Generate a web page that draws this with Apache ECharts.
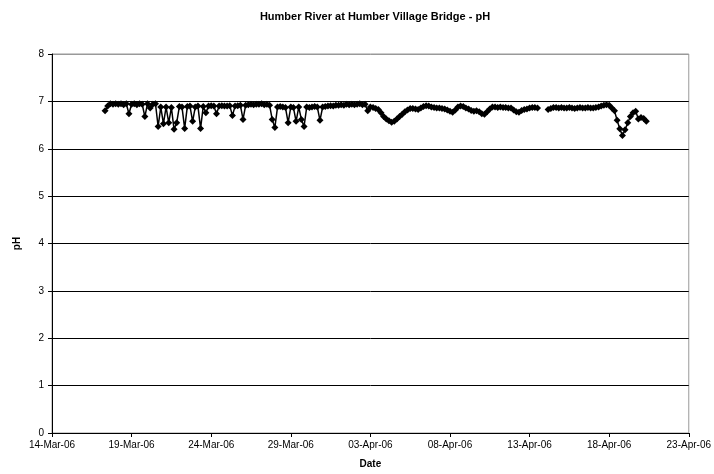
<!DOCTYPE html>
<html>
<head>
<meta charset="utf-8">
<script src="https://cdn.jsdelivr.net/npm/echarts@6/dist/echarts.min.js"></script>
<style>
  html, body { margin: 0; padding: 0; background: #fff; }
  #chart { width: 714px; height: 474px; }
</style>
</head>
<body>
<div id="chart"></div>
<script>
// axis runs from 14-Mar-06 (day 0) to 23-Apr-06 (day 40)
const startDate = Date.UTC(2006, 2, 14);
const months = ['Jan', 'Feb', 'Mar', 'Apr', 'May', 'Jun', 'Jul', 'Aug', 'Sep', 'Oct', 'Nov', 'Dec'];

// logger readings, one row per day starting 17-Mar-06, at 00,04,08,12,16,20 h
const firstDay = 3;
const hours = [0, 4, 8, 12, 16, 20];
const readings = [
    [null, null, 6.80, 6.90, 6.95, 6.94], // 17-Mar
    [6.95, 6.94, 6.95, 6.93, 6.95, 6.74], // 18-Mar
    [6.94, 6.95, 6.93, 6.95, 6.94, 6.68], // 19-Mar
    [6.95, 6.86, 6.94, 6.95, 6.47, 6.88], // 20-Mar
    [6.53, 6.88, 6.55, 6.87, 6.41, 6.55], // 21-Mar
    [6.89, 6.88, 6.43, 6.89, 6.90, 6.58], // 22-Mar
    [6.88, 6.90, 6.43, 6.89, 6.76, 6.90], // 23-Mar
    [6.91, 6.90, 6.74, 6.90, 6.91, 6.90], // 24-Mar
    [6.90, 6.91, 6.70, 6.90, 6.91, 6.92], // 25-Mar
    [6.62, 6.92, 6.93, 6.94, 6.93, 6.94], // 26-Mar
    [6.94, 6.95, 6.93, 6.94, 6.92, 6.62], // 27-Mar
    [6.45, 6.88, 6.89, 6.88, 6.87, 6.55], // 28-Mar
    [6.88, 6.87, 6.58, 6.88, 6.62, 6.47], // 29-Mar
    [6.88, 6.87, 6.88, 6.89, 6.88, 6.60], // 30-Mar
    [6.88, 6.89, 6.90, 6.91, 6.90, 6.92], // 31-Mar
    [6.92, 6.93, 6.92, 6.94, 6.93, 6.94], // 01-Apr
    [6.93, 6.94, 6.95, 6.93, 6.94, 6.80], // 02-Apr
    [6.88, 6.87, 6.85, 6.83, 6.76, 6.68], // 03-Apr
    [6.63, 6.59, 6.56, 6.58, 6.63, 6.68], // 04-Apr
    [6.73, 6.78, 6.82, 6.85, 6.85, 6.84], // 05-Apr
    [6.83, 6.86, 6.89, 6.91, 6.90, 6.88], // 06-Apr
    [6.87, 6.86, 6.86, 6.85, 6.84, 6.82], // 07-Apr
    [6.79, 6.77, 6.82, 6.88, 6.90, 6.89], // 08-Apr
    [6.86, 6.84, 6.81, 6.79, 6.80, 6.78], // 09-Apr
    [6.74, 6.73, 6.78, 6.84, 6.88, 6.88], // 10-Apr
    [6.87, 6.88, 6.87, 6.87, 6.86, 6.86], // 11-Apr
    [6.82, 6.78, 6.77, 6.81, 6.83, 6.84], // 12-Apr
    [6.86, 6.87, 6.87, 6.86, null, null], // 13-Apr
    [null, 6.83, 6.85, 6.87, 6.87, 6.86], // 14-Apr
    [6.87, 6.86, 6.86, 6.87, 6.86, 6.85], // 15-Apr
    [6.86, 6.87, 6.86, 6.86, 6.87, 6.86], // 16-Apr
    [6.86, 6.87, 6.88, 6.90, 6.92, 6.93], // 17-Apr
    [6.92, 6.86, 6.80, 6.60, 6.42, 6.28], // 18-Apr
    [6.40, 6.55, 6.68, 6.76, 6.79, 6.63], // 19-Apr
    [6.66, 6.64, 6.58, null, null, null]  // 20-Apr
];

function fmtDay(d) {
    const dt = new Date(startDate + d * 86400000);
    const dd = String(dt.getUTCDate()).padStart(2, '0');
    const yy = String(dt.getUTCFullYear()).slice(2);
    return `${dd}-${months[dt.getUTCMonth()]}-${yy}`;
}

// flatten into [day, pH] pairs, keep null so the gap stays a gap
const seriesData = [];
readings.forEach((row, i) => {
    row.forEach((v, j) => {
        const x = firstDay + i + hours[j] / 24;
        if (v === null) {
            // only keep interior gaps
            if (i > 0 && i < readings.length - 1) seriesData.push([x, null]);
            return;
        }
        seriesData.push([x, v]);
    });
});

const font = 'Liberation Sans, Arial, sans-serif';

var myChart = echarts.init(document.getElementById('chart'));
var option;

option = {
    animation: false,
    title: {
        text: 'Humber River at Humber Village Bridge - pH',
        left: 370,
        textAlign: 'center',
        top: 6,
        textStyle: { fontFamily: font, fontSize: 11, fontWeight: 'bold', color: '#000' }
    },
    grid: {
        left: 52,
        right: 25,
        top: 54,
        bottom: 39,
        show: true,
        borderColor: '#999',
        borderWidth: 1
    },
    xAxis: {
        type: 'value',
        min: 0,
        max: 40,
        interval: 5,
        name: 'Date',
        nameLocation: 'middle',
        nameGap: 26,
        nameTextStyle: { fontFamily: font, fontSize: 10, fontWeight: 'bold', color: '#000' },
        axisLine: { lineStyle: { color: '#000', width: 1 } },
        axisTick: { show: true, length: 4, lineStyle: { color: '#000' } },
        axisLabel: {
            margin: 7,
            fontFamily: font,
            fontSize: 10,
            color: '#000',
            formatter: (v) => fmtDay(v)
        },
        splitLine: { show: false }
    },
    yAxis: {
        type: 'value',
        min: 0,
        max: 8,
        interval: 1,
        name: 'pH',
        nameLocation: 'middle',
        nameGap: 30,
        nameTextStyle: { fontFamily: font, fontSize: 10, fontWeight: 'bold', color: '#000' },
        axisLine: { show: true, lineStyle: { color: '#000', width: 1 } },
        axisTick: { show: true, length: 4, lineStyle: { color: '#000' } },
        axisLabel: { margin: 8, fontFamily: font, fontSize: 10, color: '#000' },
        splitLine: {
            show: true,
            lineStyle: {
                color: ['#000', '#000', '#000', '#000', '#000', '#000', '#000', '#000', '#999'],
                width: 1
            }
        }
    },
    series: [{
        name: 'pH',
        type: 'line',
        data: seriesData,
        connectNulls: false,
        symbol: 'diamond',
        symbolSize: 7,
        showAllSymbol: true,
        lineStyle: { color: '#000', width: 1.5 },
        itemStyle: { color: '#000' }
    }]
};

option && myChart.setOption(option);
</script>
</body>
</html>
